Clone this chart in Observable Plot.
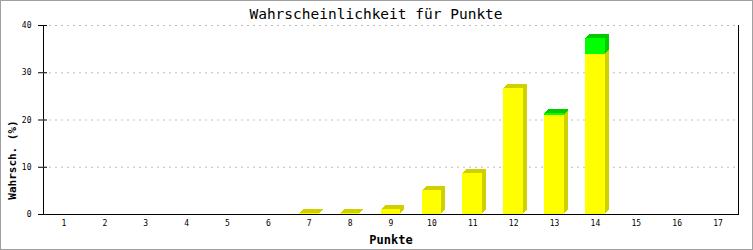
<!DOCTYPE html>
<html><head><meta charset="utf-8">
<script src="https://cdn.jsdelivr.net/npm/d3@7"></script>
<script src="https://cdn.jsdelivr.net/npm/@observablehq/plot@0.6"></script>
<style>
body{margin:0;background:#fff;}
#c svg{display:block;outline:1px solid #a0a0a0;outline-offset:-1px;}
</style></head>
<body><div id="c"></div>
<script>
const categories = ["1","2","3","4","5","6","7","8","9","10","11","12","13","14","15","16","17"];
const yellowValues = [0,0,0,0,0,0,0.15,0.3,1.0,5.1,8.7,26.6,21.0,33.9,0,0,0];
const greenValues  = [0,0,0,0,0,0,0,0,0,0,0,0,0.45,3.3,0,0,0];
const yTicks = [0,10,20,30,40];

const rows = categories.map((c,i)=>({
  p:c,
  y0:0, y1:yellowValues[i],
  g0:yellowValues[i], g1:yellowValues[i]+greenValues[i],
  hasY: yellowValues[i]>0, hasG: greenValues[i]>0
}));
const yr = rows.filter(d=>d.hasY), gr = rows.filter(d=>d.hasG);
const W=753,H=250,ML=43,MR=15,MT=25,MB=36;
const depth=[4,3,2,1];
const backs=[];
for(const k of depth){
  backs.push(Plot.barY(yr,{x:"p",y1:"y0",y2:"y1",fill:"#d0d000",dx:k,dy:-k,shapeRendering:"crispEdges"}));
}
for(const k of depth){
  backs.push(Plot.barY(gr,{x:"p",y1:"g0",y2:"g1",fill:"#00cc00",dx:k,dy:-k,shapeRendering:"crispEdges"}));
}
const mono="DejaVu Sans Mono, monospace";
const chart = Plot.plot({
  width:W,height:H,marginLeft:ML,marginRight:MR,marginTop:MT,marginBottom:MB,
  style:{background:"#fff",fontFamily:mono,fontSize:"8px",color:"#000"},
  x:{type:"band",domain:categories,paddingInner:0.52,paddingOuter:0.26,align:0.5,round:false,label:null},
  y:{domain:[0,40],label:null},
  marks:[
    Plot.frame({stroke:"#000"}),
    Plot.ruleY([40],{stroke:"#fff"}),
    Plot.gridY([10,20,30,40],{stroke:"#c0c0c0",strokeOpacity:1,strokeDasharray:"2,4"}),
    ...backs,
    Plot.barY(yr,{x:"p",y1:"y0",y2:"y1",fill:"#ffff00",shapeRendering:"crispEdges"}),
    Plot.barY(gr,{x:"p",y1:"g0",y2:"g1",fill:"#00ff00",shapeRendering:"crispEdges"}),
    Plot.ruleY([0],{stroke:"#000"}),
    Plot.ruleY(yTicks,{stroke:"#000",insetRight:W-ML-MR-4}),
    Plot.axisY(yTicks,{tickSize:5,tickPadding:7,fontSize:8,label:null}),
    Plot.axisX({tickSize:0,tickPadding:6,fontSize:8,label:null}),
    Plot.text(["Wahrscheinlichkeit für Punkte"],{frameAnchor:"top",lineAnchor:"middle",dy:-11,dx:-15,fontSize:14.5,fontFamily:mono,fill:"#000"}),
    Plot.text(["Punkte"],{frameAnchor:"bottom",lineAnchor:"middle",dy:26,fontSize:12,fontWeight:"bold",fontFamily:mono,fill:"#000"}),
    Plot.text(["Wahrsch. (%)"],{frameAnchor:"left",textAnchor:"middle",lineAnchor:"middle",dx:-31,dy:40,rotate:-90,fontSize:11,fontWeight:"bold",fontFamily:mono,fill:"#000"})
  ]
});
document.getElementById("c").appendChild(chart);
</script></body></html>
